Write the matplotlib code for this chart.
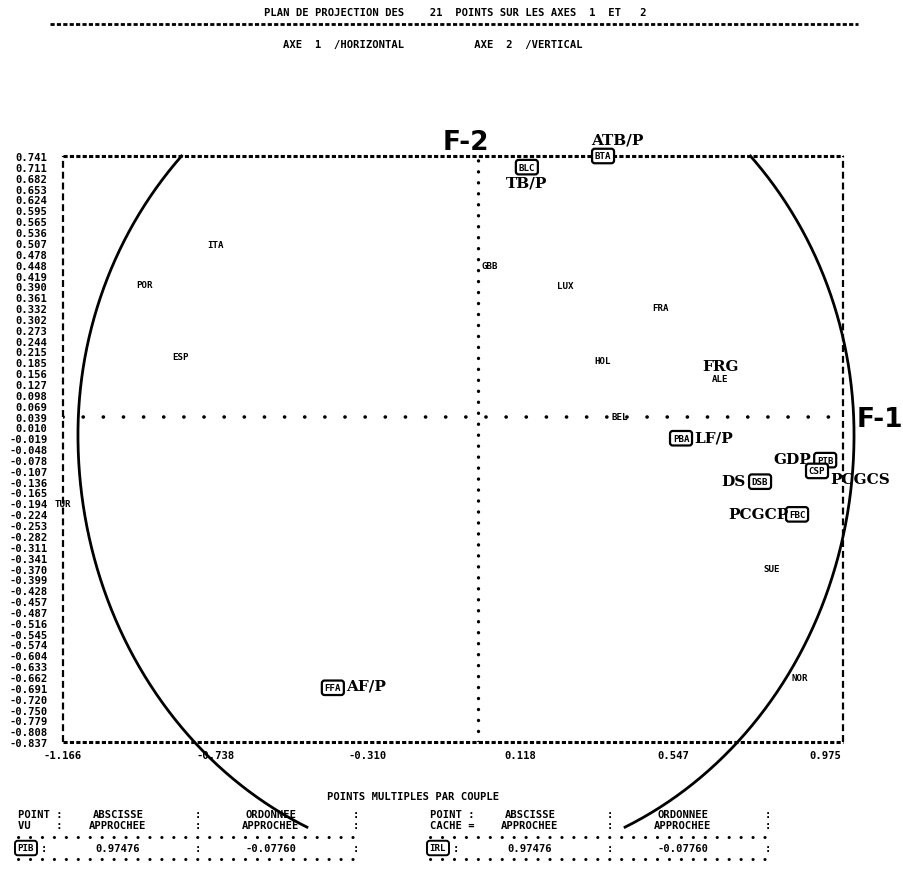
"""Plan factoriel (axes 1 et 2) de l'analyse des correspondances, style listing imprimante."""

import numpy as np
import matplotlib

matplotlib.use("Agg")
import matplotlib.pyplot as plt  # noqa: E402

plt.rcParams["lines.scale_dashes"] = False

# Country points (tiny printer labels)
COUNTRIES = ["ITA", "POR", "ESP", "GBB", "LUX", "FRA", "HOL", "ALE", "BEL", "TUR", "SUE", "NOR"]
COUNTRY_X = [-0.739, -0.936, -0.837, 0.033, 0.244, 0.511, 0.351, 0.680, 0.399, -1.166, 0.826, 0.904]
COUNTRY_Y = [0.504, 0.396, 0.200, 0.445, 0.391, 0.334, 0.189, 0.141, 0.039, -0.194, -0.370, -0.662]

# Variable points: printer code, hand-written name, coordinates
VARIABLES = ["BLC", "BTA", "PBA", "PIB", "CSP", "DSB", "FBC", "FFA"]
VAR_NAMES = ["TB/P", "ATB/P", "LF/P", "GDP", "PCGCS", "DS", "PCGCP", "AF/P"]
VAR_X = [0.137, 0.351, 0.570, 0.975, 0.952, 0.792, 0.896, -0.408]
VAR_Y = [0.711, 0.741, -0.019, -0.078, -0.107, -0.136, -0.224, -0.691]

# Row labels printed down the left margin
Y_ROWS = [0.741, 0.711, 0.682, 0.653, 0.624, 0.595, 0.565, 0.536, 0.507, 0.478,
          0.448, 0.419, 0.390, 0.361, 0.332, 0.302, 0.273, 0.244, 0.215, 0.185,
          0.156, 0.127, 0.098, 0.069, 0.039, 0.010, -0.019, -0.048, -0.078, -0.107,
          -0.136, -0.165, -0.194, -0.224, -0.253, -0.282, -0.311, -0.341, -0.370, -0.399,
          -0.428, -0.457, -0.487, -0.516, -0.545, -0.574, -0.604, -0.633, -0.662, -0.691,
          -0.720, -0.750, -0.779, -0.808, -0.837]
X_COLS = [-1.166, -0.738, -0.310, 0.118, 0.547, 0.975]

# Multiple points table (visible / hidden)
MULTI_SEEN = "PIB"
MULTI_HIDDEN = "IRL"
MULTI_X = 0.97476
MULTI_Y = -0.07760

# where the printer puts the F-1 axis (zero row)
ZERO_ROW = 0.039

W, H = 904, 870
PRINT = dict(family="DejaVu Sans Mono", fontweight="bold", fontsize=7.6, color="black")
SMALL = dict(PRINT, fontsize=6.6)
HAND = dict(family="DejaVu Serif", fontweight="bold", fontsize=11, color="black")


def fx(px):
    return px / W


def fy(py):
    return 1 - py / H


fig = plt.figure(figsize=(W / 100, H / 100), dpi=100)
ax = fig.add_axes([fx(63), fy(743), 780 / W, 586 / H])
ax.set_xlim(-1.166, 1.025)
ax.set_ylim(Y_ROWS[-1], Y_ROWS[0])
for s in ax.spines.values():
    s.set_visible(False)

# printer frame
x0, x1 = ax.get_xlim()
y0, y1 = ax.get_ylim()
ax.plot([x0, x1], [y1, y1], color="black", lw=2.2, ls=(0, (3, 1.6)), clip_on=False)
ax.plot([x0, x1], [y0, y0], color="black", lw=2.2, ls=(0, (3, 1.6)), clip_on=False)
ax.plot([x0, x0], [y0, y1], color="black", lw=1.6, ls=(0, (5, 2.8)), clip_on=False)
ax.plot([x1, x1], [y0, y1], color="black", lw=1.6, ls=(0, (5, 2.8)), clip_on=False)

# factorial axes
ax.plot([x0, x1], [ZERO_ROW, ZERO_ROW], color="black", lw=2.6,
        ls=(0, (0.1, 14.4)), dash_capstyle="round")
ax.plot([0, 0], [y0, y1], color="black", lw=2.4,
        ls=(0, (0.1, 7.8)), dash_capstyle="round")

# ticks as printed labels
ax.set_yticks(Y_ROWS)
ax.set_yticklabels([f"{v:.3f}" for v in Y_ROWS], **PRINT)
ax.set_xticks(X_COLS)
ax.set_xticklabels([f"{v:.3f}" for v in X_COLS], **PRINT)
ax.tick_params(axis="y", length=0, pad=11)
ax.tick_params(axis="x", length=0, pad=6)

# correlation circle, drawn by hand on the listing: a bit taller below the F-1 axis
cx, cy, rx = -0.034, -0.010, 1.09
ry_up, ry_low = 1.104, 1.158
top = np.degrees(np.arcsin((y1 - cy) / ry_up))
for a, b in ((180 - top, 245.8), (-65.8, top)):
    t = np.radians(np.linspace(a, b, 300))
    ry = np.where(np.sin(t) > 0, ry_up, ry_low)
    ax.plot(cx + rx * np.cos(t), cy + ry * np.sin(t), color="black", lw=2.0, clip_on=False)

for name, x, y in zip(COUNTRIES, COUNTRY_X, COUNTRY_Y):
    ax.text(x, y, name, ha="center", va="center", **SMALL)

# hand-written names beside each boxed variable (offsets in pixels)
offsets = {
    "BLC": ((0, -15), "center"),
    "BTA": ((14, 16), "center"),
    "PBA": ((13, 1), "left"),
    "PIB": ((-14, 1), "right"),
    "CSP": ((13, -8), "left"),
    "DSB": ((-15, 1), "right"),
    "FBC": ((-9, 0), "right"),
    "FFA": ((13, 2), "left"),
}
for code, name, x, y in zip(VARIABLES, VAR_NAMES, VAR_X, VAR_Y):
    ax.text(x, y, code, ha="center", va="center", zorder=4,
            bbox=dict(boxstyle="round,pad=0.3,rounding_size=0.3", fc="white",
                      ec="black", lw=1.6), **SMALL)
    (dx, dy), ha = offsets[code]
    ax.annotate(name, (x, y), xytext=(dx, dy), textcoords="offset pixels",
                ha=ha, va="center", zorder=5, **HAND)

ax.annotate("FRG", (COUNTRY_X[7], COUNTRY_Y[7]), xytext=(0, 13),
            textcoords="offset pixels", ha="center", va="center", **HAND)

# axis names
ax.annotate("F-2", (0, y1), xytext=(-12, 14), textcoords="offset pixels",
            ha="center", va="center", family="DejaVu Sans", fontweight="bold",
            fontsize=19, annotation_clip=False)
ax.annotate("F-1", (x1, ZERO_ROW), xytext=(37, -2), textcoords="offset pixels",
            ha="center", va="center", family="DejaVu Sans", fontweight="bold",
            fontsize=19, annotation_clip=False)

# listing header
fig.text(fx(455), fy(13), "PLAN DE PROJECTION DES    21  POINTS SUR LES AXES  1  ET   2",
         ha="center", va="center", **PRINT)
fig.add_artist(plt.Line2D([fx(50), fx(858)], [fy(25), fy(25)], color="black", lw=2.0,
                          ls=(0, (3, 1.6))))
fig.text(fx(433), fy(45), "AXE  1  /HORIZONTAL           AXE  2  /VERTICAL",
         ha="center", va="center", **PRINT)

# multiple points table
fig.text(fx(413), fy(797), "POINTS MULTIPLES PAR COUPLE", ha="center", va="center", **PRINT)


def table(left, head2, code):
    cols = [left + 100, left + 180, left + 253, left + 338]
    fig.text(fx(left), fy(815), "POINT :", ha="left", va="center", **PRINT)
    fig.text(fx(left), fy(826), head2, ha="left", va="center", **PRINT)
    fig.text(fx(cols[0]), fy(815), "ABSCISSE", ha="center", va="center", **PRINT)
    fig.text(fx(cols[0]), fy(826), "APPROCHEE", ha="center", va="center", **PRINT)
    fig.text(fx(cols[2]), fy(815), "ORDONNEE", ha="center", va="center", **PRINT)
    fig.text(fx(cols[2]), fy(826), "APPROCHEE", ha="center", va="center", **PRINT)
    for c in (cols[1], cols[3]):
        for yy in (815, 826, 849):
            fig.text(fx(c), fy(yy), ":", ha="center", va="center", **PRINT)
    for yy in (838, 860):
        fig.add_artist(plt.Line2D([fx(left), fx(left + 340)], [fy(yy), fy(yy)],
                                  color="black", lw=2.2, ls=(0, (0.1, 8.5)),
                                  dash_capstyle="round"))
    fig.text(fx(left + 8), fy(849), code, ha="center", va="center",
             bbox=dict(boxstyle="round,pad=0.3", fc="white", ec="black", lw=1.4), **SMALL)
    fig.text(fx(left + 26), fy(849), ":", ha="center", va="center", **PRINT)
    fig.text(fx(cols[0]), fy(849), f"{MULTI_X:.5f}", ha="center", va="center", **PRINT)
    fig.text(fx(cols[2]), fy(849), f"{MULTI_Y:.5f}", ha="center", va="center", **PRINT)


table(18, "VU    :", MULTI_SEEN)
table(430, "CACHE =", MULTI_HIDDEN)

fig.savefig("out.png", dpi=100)
